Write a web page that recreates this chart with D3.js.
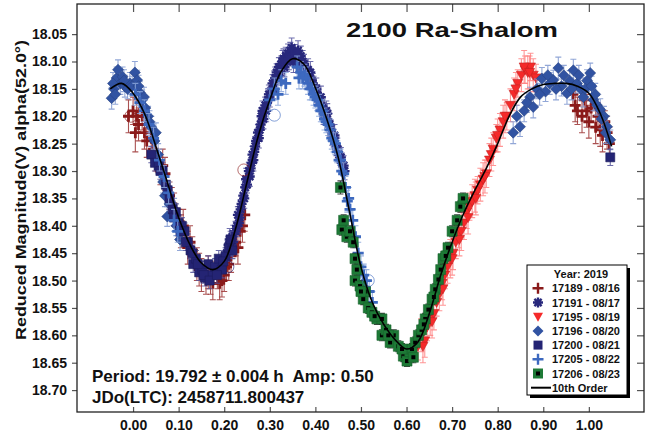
<!DOCTYPE html>
<html>
<head>
<meta charset="utf-8">
<script src="https://cdn.jsdelivr.net/npm/d3@7"></script>
<style>
  body { margin: 0; background: #fff; }
  text { font-family: "Liberation Sans", Arial, sans-serif; font-weight: bold; fill: #111; }
</style>
</head>
<body>
<div id="chart"></div>
<script>
//chart size
let svgWidth = 652;
let svgHeight = 436;

/******************** data ********************/
// tick values
let xTicks = [0, 0.1, 0.2, 0.3, 0.4, 0.5, 0.6, 0.7, 0.8, 0.9, 1.0];
let yTicks = [18.05, 18.10, 18.15, 18.20, 18.25, 18.30, 18.35, 18.40, 18.45, 18.50, 18.55, 18.60, 18.65, 18.70];

// each point: [phase, reduced mag, error]
let s17189 = [[0.965,18.16,0.02],[0.975,18.19,0.025],[0.985,18.2,0.03],[0.99,18.17,0.02],[1.0,18.21,0.03],[1.005,18.185,0.025],[1.015,18.22,0.03],[1.02,18.2,0.025],[1.03,18.235,0.03],[1.035,18.21,0.02],[1.045,18.25,0.03],
  [-0.01,18.2,0.03],[0.0,18.19,0.025],[0.005,18.23,0.035],[0.012,18.215,0.03],[0.02,18.2,0.025],[0.03,18.245,0.03],[0.04,18.24,0.025],[0.05,18.27,0.03],[0.06,18.3,0.025],[0.07,18.305,0.03],[0.08,18.345,0.025],[0.09,18.37,0.03],[0.1,18.395,0.025],[0.11,18.4,0.03],[0.12,18.44,0.03],[0.13,18.445,0.025],[0.14,18.47,0.03],[0.15,18.49,0.03],[0.16,18.5,0.025],[0.165,18.485,0.03],[0.175,18.505,0.03],[0.185,18.49,0.025],[0.195,18.5,0.03],[0.205,18.475,0.025],[0.215,18.455,0.03],[0.225,18.43,0.025],[0.235,18.41,0.03],[0.245,18.38,0.03],
  [0.97,18.18,0.03],[0.995,18.19,0.03],[1.025,18.225,0.03],[1.04,18.23,0.03],[0.008,18.2,0.03],[0.025,18.23,0.03],[0.045,18.26,0.03],[0.065,18.29,0.03],[0.085,18.36,0.03],[0.105,18.41,0.03],[0.125,18.43,0.03],[0.145,18.48,0.03],[0.17,18.495,0.03],[0.19,18.505,0.03],[0.2,18.49,0.03],[0.21,18.47,0.03],[0.23,18.44,0.03],[0.24,18.4,0.03]];

let s17191 = [[0.205,18.45,0.015],[0.21,18.435,0.018],[0.215,18.44,0.015],[0.22,18.415,0.016],[0.225,18.41,0.018],[0.23,18.38,0.015],[0.234,18.385,0.017],[0.238,18.36,0.015],[0.242,18.345,0.016],[0.246,18.33,0.018],[0.25,18.325,0.015],[0.254,18.3,0.016],[0.258,18.295,0.017],[0.262,18.27,0.015],[0.266,18.265,0.018],[0.27,18.245,0.016],[0.274,18.23,0.015],[0.278,18.225,0.017],[0.282,18.2,0.016],[0.286,18.205,0.018],[0.29,18.18,0.015],[0.294,18.175,0.016],[0.298,18.16,0.017],[0.302,18.155,0.015],[0.306,18.14,0.016],[0.31,18.135,0.018],[0.315,18.12,0.016],[0.32,18.11,0.017],[0.325,18.105,0.015],[0.33,18.095,0.018],[0.335,18.09,0.016],[0.34,18.085,0.017],[0.345,18.08,0.015],[0.35,18.09,0.018],[0.355,18.085,0.016],[0.36,18.095,0.017],[0.365,18.1,0.015],[0.37,18.11,0.016],[0.375,18.105,0.018],[0.38,18.12,0.016],[0.386,18.13,0.017],[0.392,18.135,0.015],[0.398,18.155,0.016],[0.404,18.16,0.018],[0.41,18.175,0.016],[0.416,18.185,0.017],[0.422,18.2,0.015],[0.428,18.21,0.016],[0.434,18.225,0.018],[0.44,18.24,0.016],[0.446,18.255,0.017],[0.452,18.27,0.015],[0.458,18.285,0.018],[0.464,18.3,0.016],
  [0.228,18.4,0.02],[0.244,18.35,0.018],[0.26,18.285,0.02],[0.276,18.24,0.018],[0.292,18.19,0.02],[0.308,18.15,0.018],[0.322,18.12,0.02],[0.338,18.1,0.018],[0.352,18.1,0.02],[0.368,18.09,0.018],[0.384,18.115,0.02],[0.396,18.145,0.018],[0.412,18.165,0.02],[0.426,18.195,0.018],[0.442,18.235,0.02],[0.456,18.275,0.018],
  [0.212,18.425,0.02],[0.219,18.43,0.018],[0.232,18.395,0.02],[0.236,18.37,0.018],[0.248,18.315,0.02],[0.256,18.31,0.018],[0.264,18.28,0.02],[0.268,18.255,0.018],[0.28,18.215,0.02],[0.284,18.19,0.018],[0.296,18.17,0.02],[0.3,18.165,0.018],[0.312,18.13,0.02],[0.318,18.125,0.018],[0.328,18.1,0.02],[0.332,18.11,0.018],[0.342,18.095,0.02],[0.348,18.075,0.018],[0.358,18.1,0.02],[0.362,18.08,0.018],[0.372,18.1,0.02],[0.378,18.115,0.018],[0.389,18.12,0.02],[0.394,18.14,0.018],[0.402,18.15,0.02],[0.407,18.17,0.018],[0.418,18.195,0.02],[0.424,18.19,0.018],[0.431,18.215,0.02],[0.437,18.235,0.018],[0.448,18.26,0.02],[0.462,18.29,0.018]];

let s17195 = [[0.625,18.62,0.025],[0.632,18.6,0.03],[0.64,18.61,0.03],[0.645,18.585,0.025],[0.652,18.57,0.03],[0.66,18.56,0.03],[0.666,18.54,0.025],[0.672,18.525,0.03],[0.678,18.505,0.03],[0.684,18.49,0.025],[0.69,18.475,0.03],[0.696,18.46,0.035],[0.702,18.45,0.03],[0.708,18.43,0.03],[0.714,18.415,0.025],[0.72,18.41,0.035],[0.726,18.395,0.03],[0.732,18.375,0.03],[0.738,18.365,0.025],[0.744,18.355,0.03],[0.75,18.345,0.03],[0.756,18.335,0.025],[0.762,18.325,0.03],[0.768,18.315,0.03],[0.775,18.305,0.025],[0.782,18.28,0.03],[0.79,18.26,0.03],[0.797,18.24,0.025],[0.805,18.225,0.03],[0.812,18.21,0.03],[0.82,18.2,0.025],[0.828,18.18,0.03],[0.836,18.16,0.03],[0.844,18.14,0.025],[0.852,18.125,0.03],[0.86,18.115,0.025],[0.866,18.12,0.03],[0.872,18.11,0.025],[0.878,18.125,0.03],[0.884,18.13,0.025],
  [0.636,18.62,0.03],[0.656,18.575,0.03],[0.68,18.515,0.03],[0.7,18.46,0.03],[0.716,18.425,0.03],[0.735,18.385,0.03],[0.752,18.35,0.03],[0.772,18.31,0.03],[0.786,18.27,0.03],[0.8,18.235,0.03],[0.816,18.2,0.03],[0.84,18.15,0.03],[0.858,18.11,0.03],[0.87,18.12,0.03]];

let s17196 = [[-0.047,18.167,0.02],[-0.042,18.15,0.018],[-0.036,18.13,0.02],[-0.033,18.115,0.018],[-0.028,18.14,0.02],[-0.023,18.128,0.018],[-0.018,18.145,0.02],[-0.012,18.15,0.018],[-0.007,18.14,0.02],[0.004,18.12,0.02],[0.009,18.134,0.018],[0.015,18.157,0.02],[0.02,18.17,0.018],[0.027,18.185,0.02],[0.033,18.2,0.018],[0.04,18.22,0.02],[0.047,18.245,0.018],[0.055,18.27,0.02],[0.062,18.3,0.018],[0.07,18.345,0.02],[0.075,18.383,0.018],[0.085,18.36,0.02],[0.095,18.4,0.018],[0.103,18.425,0.02],
  [-0.044,18.14,0.02],[-0.039,18.16,0.018],[-0.02,18.135,0.02],[-0.002,18.145,0.018],[0.012,18.145,0.02],[0.024,18.165,0.018],[0.036,18.21,0.02],[0.05,18.23,0.018],[0.066,18.32,0.02],[0.08,18.36,0.018],[0.09,18.37,0.02],[0.098,18.4,0.018],
  [0.834,18.23,0.02],[0.849,18.219,0.018],[0.858,18.19,0.02],[0.871,18.165,0.018],[0.878,18.183,0.02],[0.886,18.15,0.018],[0.897,18.131,0.02],[0.905,18.155,0.018],[0.914,18.14,0.02],[0.922,18.134,0.018],[0.933,18.112,0.02],[0.94,18.145,0.018],[0.952,18.158,0.02],[0.958,18.135,0.018],[0.966,18.116,0.02],[0.974,18.14,0.018],[0.982,18.15,0.02],[0.988,18.165,0.018],[0.996,18.135,0.02],[1.003,18.121,0.018],[1.01,18.17,0.02],[1.018,18.18,0.018],[1.025,18.188,0.02],[1.033,18.2,0.018],[1.04,18.219,0.02],[1.047,18.243,0.018],
  [0.842,18.2,0.02],[0.864,18.175,0.018],[0.892,18.16,0.02],[0.91,18.125,0.018],[0.928,18.15,0.02],[0.945,18.125,0.018],[0.962,18.15,0.02],[0.978,18.125,0.018],[0.992,18.15,0.02],[1.006,18.145,0.018],[1.014,18.16,0.02],[1.028,18.205,0.018],[1.037,18.23,0.02]];

let s17200 = [[0.04,18.27,0.015],[0.048,18.285,0.015],[0.056,18.29,0.015],[0.065,18.3,0.015],[0.072,18.325,0.015],[0.08,18.35,0.015],[0.087,18.37,0.015],[0.094,18.375,0.015],[0.1,18.395,0.015],[0.107,18.4,0.015],[0.113,18.41,0.015],[0.12,18.43,0.015],[0.126,18.445,0.015],[0.132,18.47,0.015],[0.138,18.46,0.015],[0.145,18.485,0.015],[0.152,18.48,0.015],[0.158,18.495,0.015],[0.165,18.47,0.015],[0.172,18.49,0.015],[0.18,18.475,0.015],[0.188,18.46,0.015],[0.195,18.48,0.015],[0.203,18.455,0.015],[0.21,18.44,0.015],[0.218,18.445,0.015],
  [0.06,18.3,0.015],[0.076,18.335,0.015],[0.09,18.385,0.015],[0.104,18.41,0.015],[0.116,18.43,0.015],[0.13,18.45,0.015],[0.142,18.47,0.015],[0.155,18.49,0.015],[0.168,18.5,0.015],[0.184,18.49,0.015],[0.198,18.465,0.015],[0.214,18.425,0.015],[1.047,18.275,0.015]];

let s17205 = [[0.005,18.16,0.02],[0.015,18.175,0.02],[0.025,18.19,0.02],[0.035,18.215,0.02],[0.045,18.24,0.02],[0.058,18.28,0.02],[0.068,18.31,0.02],[0.078,18.34,0.02],[0.09,18.39,0.02],[0.098,18.41,0.02],
  [0.3,18.17,0.02],[0.31,18.15,0.02],[0.318,18.16,0.02],[0.325,18.135,0.02],[0.335,18.14,0.02],
  [0.36,18.11,0.02],[0.368,18.12,0.02],[0.376,18.125,0.02],[0.384,18.14,0.02],[0.392,18.15,0.02],[0.4,18.165,0.02],[0.408,18.18,0.02],[0.416,18.19,0.02],[0.424,18.21,0.02],[0.432,18.225,0.02],[0.44,18.245,0.02],[0.448,18.265,0.02],[0.455,18.28,0.02],[0.462,18.305,0.02],[0.47,18.355,0.02],[0.476,18.37,0.02],[0.482,18.39,0.02],[0.488,18.42,0.02],[0.494,18.45,0.02],[0.5,18.475,0.02],[0.506,18.49,0.02],[0.512,18.5,0.02],[0.518,18.52,0.02],[0.525,18.54,0.02],
  [0.364,18.13,0.02],[0.372,18.13,0.02],[0.38,18.13,0.02],[0.388,18.15,0.02],[0.396,18.16,0.02],[0.404,18.17,0.02],[0.412,18.19,0.02],[0.42,18.205,0.02],[0.428,18.215,0.02],[0.436,18.24,0.02],[0.444,18.25,0.02],[0.452,18.28,0.02],[0.458,18.3,0.02],[0.466,18.33,0.02],[0.473,18.35,0.02]];

let s17206 = [[0.455,18.33,0.012],[0.458,18.407,0.01],[0.462,18.39,0.01],[0.469,18.42,0.01],[0.476,18.41,0.01],[0.483,18.43,0.01],[0.487,18.46,0.01],[0.491,18.48,0.01],[0.487,18.5,0.01],[0.498,18.51,0.01],[0.505,18.534,0.01],[0.51,18.52,0.01],[0.516,18.55,0.01],[0.524,18.558,0.01],[0.535,18.57,0.01],[0.546,18.57,0.01],[0.546,18.6,0.01],[0.555,18.59,0.01],[0.564,18.613,0.01],[0.572,18.6,0.01],[0.582,18.62,0.01],[0.593,18.638,0.01],[0.601,18.647,0.01],[0.607,18.63,0.01],[0.612,18.625,0.01],[0.619,18.613,0.01],[0.626,18.6,0.01],[0.633,18.59,0.01],[0.641,18.57,0.01],[0.648,18.553,0.01],[0.656,18.534,0.01],[0.663,18.516,0.01],[0.67,18.498,0.01],[0.675,18.48,0.01],[0.68,18.46,0.01],[0.691,18.44,0.01],[0.7,18.41,0.01],[0.711,18.39,0.01],[0.718,18.365,0.01],[0.724,18.35,0.01],
  [0.5,18.52,0.01],[0.53,18.565,0.01],[0.56,18.6,0.01],[0.59,18.625,0.01],[0.615,18.64,0.01],[0.638,18.58,0.01],[0.66,18.53,0.01],[0.686,18.455,0.01]];

// rejected points drawn hollow: [phase, mag, session]
let rejected = [[-0.005,18.2,"17189"],[0.243,18.298,"17189"],[0.31,18.198,"17205"],[0.516,18.5,"17205"],[0.208,18.475,"17200"]];

// 10th order fourier fit
let fitPhase = [-0.05,-0.025,0,0.025,0.05,0.075,0.1,0.125,0.15,0.175,0.2,0.225,0.25,0.275,0.3,0.325,0.35,0.375,0.4,0.425,0.45,0.475,0.5,0.525,0.55,0.575,0.6,0.625,0.65,0.675,0.7,0.725,0.75,0.775,0.8,0.825,0.85,0.875,0.9,0.925,0.95,0.975,1.0,1.025,1.05];
let fitMag = [18.150,18.140,18.158,18.195,18.255,18.320,18.385,18.435,18.468,18.480,18.465,18.405,18.320,18.235,18.170,18.118,18.095,18.105,18.148,18.205,18.275,18.375,18.475,18.540,18.580,18.608,18.625,18.612,18.560,18.490,18.430,18.378,18.335,18.295,18.250,18.200,18.165,18.150,18.142,18.140,18.140,18.145,18.158,18.195,18.255];

let legendLabels = ["17189 - 08/16","17191 - 08/17","17195 - 08/19","17196 - 08/20","17200 - 08/21","17205 - 08/22","17206 - 08/23"];

/******************** styles ********************/
let sessions = [
  { key: "17189", data: s17189, shape: "plus", color: "#8a1a1a", err: "#9c3434" },
  { key: "17191", data: s17191, shape: "star", color: "#28287c", err: "#5656a0" },
  { key: "17195", data: s17195, shape: "tri", color: "#f52a2a", err: "#ff8484" },
  { key: "17196", data: s17196, shape: "diamond", color: "#3153a2", err: "#7f98d0" },
  { key: "17200", data: s17200, shape: "square", color: "#242474", err: "#52529a" },
  { key: "17205", data: s17205, shape: "plus", color: "#3d69bf", err: "#8aa6dc" },
  { key: "17206", data: s17206, shape: "green", color: "#1d7a36", err: "#222222" }
];

let shapes = {
  plus: "M-5.5,0H5.5M0,-5.5V5.5",
  star: "M-5,0H5M0,-5V5M-3.6,-3.6L3.6,3.6M-3.6,3.6L3.6,-3.6",
  tri: "M-5,-4L5,-4L0,5Z",
  diamond: "M0,-5.5L5.5,0L0,5.5L-5.5,0Z",
  square: "M-4.5,-4.5H4.5V4.5H-4.5Z",
  green: "M-5,-5H5V5H-5Z",
  inner: "M-2,-2H2V2H-2Z"
};

/******************** chart ********************/
let svg = d3.select("#chart")
  .append("svg")
  .attr("width", svgWidth)
  .attr("height", svgHeight);

let xScale = d3.scaleLinear().domain([-0.123, 1.121]).range([77, 644]);
let yScale = d3.scaleLinear().domain([17.995, 18.74]).range([4, 412]);

// axes
let bottomAxis = d3.axisBottom(xScale).tickValues(xTicks).tickSize(-5).tickPadding(8).tickFormat(d3.format(".2f"));
let topAxis = d3.axisTop(xScale).tickValues(xTicks).tickSize(-8).tickFormat("");
let leftAxis = d3.axisLeft(yScale).tickValues(yTicks).tickSize(5).tickPadding(5).tickFormat(d3.format(".2f"));
let rightAxis = d3.axisRight(yScale).tickValues(yTicks).tickSize(-7).tickFormat("");

svg.append("g").attr("transform", "translate(0,412)").call(bottomAxis).attr("class", "axis");
svg.append("g").attr("transform", "translate(0,4)").call(topAxis).attr("class", "axis");
svg.append("g").attr("transform", "translate(77,0)").call(leftAxis).attr("class", "axis");
svg.append("g").attr("transform", "translate(644,0)").call(rightAxis).attr("class", "axis");

svg.selectAll(".axis .domain").remove();
svg.selectAll(".axis line").attr("stroke", "#555").attr("stroke-width", 1.2);
svg.selectAll(".axis text").attr("font-size", 14).attr("font-family", "Liberation Sans, Arial, sans-serif").attr("font-weight", "bold").attr("fill", "#111");

// data
let plot = svg.append("g");

sessions.forEach(function (s) {
  let g = plot.append("g");
  g.selectAll("path.err")
    .data(s.data)
    .enter()
    .append("path")
    .attr("d", function (d) {
      let px = xScale(d[0]);
      let y1 = yScale(d[1] - d[2]);
      let y2 = yScale(d[1] + d[2]);
      return `M${px - 3},${y1}H${px + 3}M${px},${y1}V${y2}M${px - 3},${y2}H${px + 3}`;
    })
    .attr("fill", "none")
    .attr("stroke", s.err)
    .attr("stroke-width", 1.1)
    .attr("opacity", 0.85);

  let marks = g.selectAll("g.mk")
    .data(s.data)
    .enter()
    .append("g")
    .attr("transform", (d) => `translate(${xScale(d[0])},${yScale(d[1])})`);

  if (s.shape === "plus" || s.shape === "star") {
    marks.append("path").attr("d", shapes[s.shape])
      .attr("fill", "none").attr("stroke", s.color).attr("stroke-width", s.shape === "plus" ? 2.8 : 2.3);
  } else {
    marks.append("path").attr("d", shapes[s.shape])
      .attr("fill", s.color).attr("stroke", d3.color(s.color).darker(0.6)).attr("stroke-width", 0.6);
  }
  if (s.shape === "green") {
    marks.append("path").attr("d", shapes.inner).attr("fill", "#000");
  }
});

// hollow rejected points
plot.selectAll("circle.rej")
  .data(rejected)
  .enter()
  .append("circle")
  .attr("cx", (d) => xScale(d[0]))
  .attr("cy", (d) => yScale(d[1]))
  .attr("r", 6)
  .attr("fill", "none")
  .attr("stroke", (d) => sessions.find((s) => s.key === d[2]).color)
  .attr("stroke-width", 0.9)
  .attr("opacity", 0.7);

// fit line
let fitData = fitPhase.map((p, i) => [p, fitMag[i]]);
let line = d3.line()
  .x((d) => xScale(d[0]))
  .y((d) => yScale(d[1]))
  .curve(d3.curveCatmullRom);

plot.append("path")
  .datum(fitData)
  .attr("d", line)
  .attr("fill", "none")
  .attr("stroke", "#000")
  .attr("stroke-width", 1.6);

// frame
svg.append("rect")
  .attr("x", 77).attr("y", 4)
  .attr("width", 567).attr("height", 408)
  .attr("fill", "none")
  .attr("stroke", "#222")
  .attr("stroke-width", 1.3);

/******************** texts ********************/
svg.append("text")
  .attr("x", 346).attr("y", 37)
  .attr("font-size", 21)
  .attr("textLength", 212)
  .attr("lengthAdjust", "spacingAndGlyphs")
  .text("2100 Ra-Shalom");

svg.append("text")
  .attr("transform", "translate(26,190) rotate(-90)")
  .attr("text-anchor", "middle")
  .attr("font-size", 14)
  .attr("textLength", 300)
  .attr("lengthAdjust", "spacingAndGlyphs")
  .text("Reduced Magnitude(V) alpha(52.0°)");

svg.append("text")
  .attr("x", 92).attr("y", 382)
  .attr("font-size", 17)
  .style("white-space", "pre")
  .text("Period: 19.792 ± 0.004 h  Amp: 0.50");

svg.append("text")
  .attr("x", 92).attr("y", 403)
  .attr("font-size", 17)
  .text("JDo(LTC): 2458711.800437");

/******************** legend ********************/
let legend = svg.append("g").attr("transform", "translate(527,265)");

legend.append("rect").attr("x", 3).attr("y", 3).attr("width", 100).attr("height", 130).attr("fill", "#000");
legend.append("rect").attr("width", 100).attr("height", 130).attr("fill", "#fff").attr("stroke", "#000").attr("stroke-width", 1);

legend.append("text").attr("x", 54).attr("y", 13).attr("text-anchor", "middle").attr("font-size", 11).text("Year: 2019");

let rows = legend.selectAll("g.row")
  .data(sessions)
  .enter()
  .append("g")
  .attr("transform", (d, i) => `translate(11,${23.3 + i * 14.2})`);

rows.each(function (s) {
  let r = d3.select(this);
  if (s.shape === "plus" || s.shape === "star") {
    r.append("path").attr("d", shapes[s.shape]).attr("fill", "none").attr("stroke", s.color).attr("stroke-width", 2.4);
  } else {
    r.append("path").attr("d", shapes[s.shape]).attr("fill", s.color);
  }
  if (s.shape === "green") r.append("path").attr("d", shapes.inner).attr("fill", "#000");
});

rows.append("text")
  .attr("x", 14).attr("y", 4)
  .attr("font-size", 11)
  .text((d, i) => legendLabels[i]);

let fitRow = legend.append("g").attr("transform", `translate(11,${23.3 + 7 * 14.2})`);
fitRow.append("line").attr("x1", -7).attr("x2", 13).attr("stroke", "#000").attr("stroke-width", 2);
fitRow.append("text").attr("x", 14).attr("y", 4).attr("font-size", 11).text("10th Order");
</script>
</body>
</html>
